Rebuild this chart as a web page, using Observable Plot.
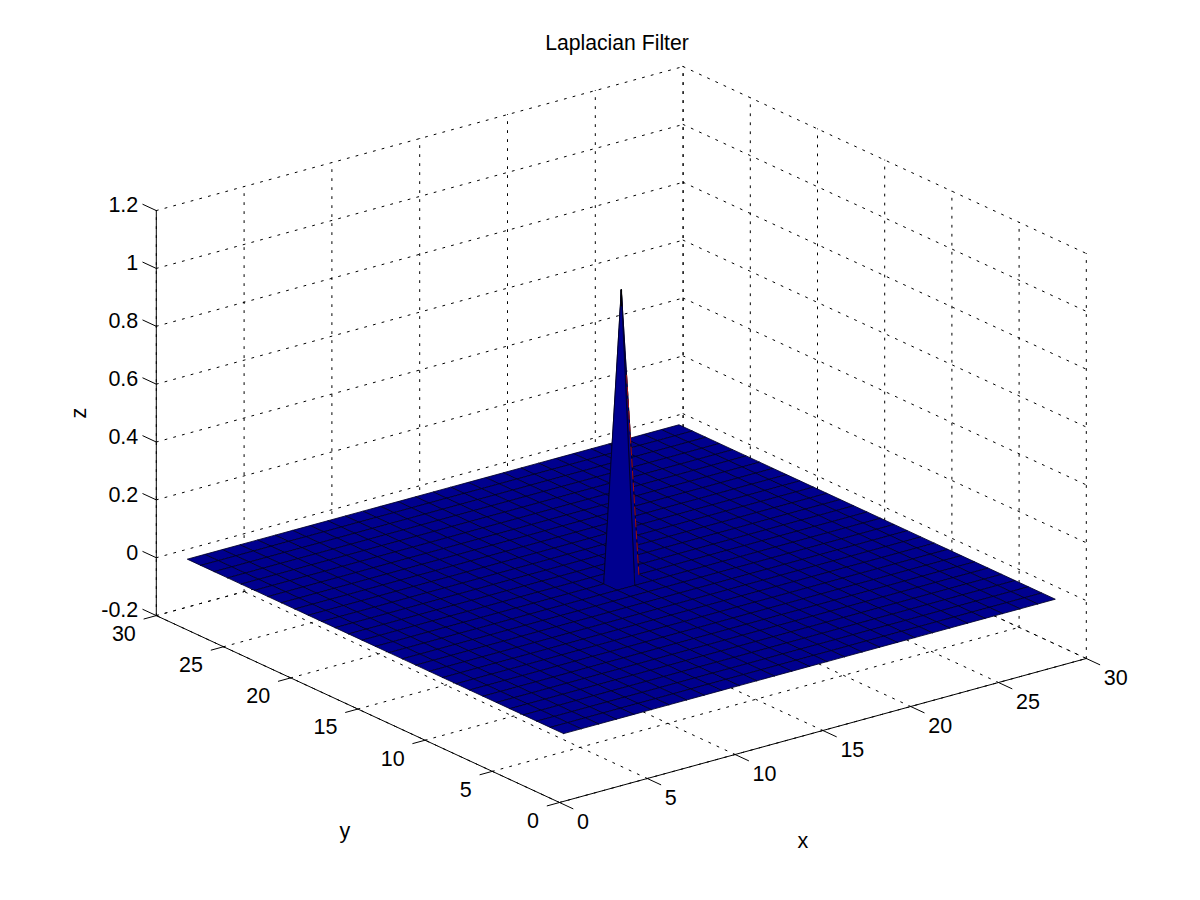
<!DOCTYPE html>
<html>
<head>
<meta charset="utf-8">
<script src="https://cdn.jsdelivr.net/npm/d3@7"></script>
<script src="https://cdn.jsdelivr.net/npm/@observablehq/plot@0.6"></script>
<style>
  html, body { margin: 0; padding: 0; background: #fff; }
  #title { position: relative; height: 54px; font: 21.2px/24px "Liberation Sans", Arial, sans-serif; color: #000; }
  #title span { position: absolute; left: 617px; top: 31px; transform: translateX(-50%); white-space: nowrap; }
  #chart svg { display: block; }
</style>
</head>
<body>
<div id="title"><span>Laplacian Filter</span></div>
<div id="chart"></div>
<script>
// ---- chart values ----
const chartTitle = "Laplacian Filter";
const gridX = [1,2,3,4,5,6,7,8,9,10,11,12,13,14,15,16,17,18,19,20,21,22,23,24,25,26,27,28,29];
const gridY = [1,2,3,4,5,6,7,8,9,10,11,12,13,14,15,16,17,18,19,20,21,22,23,24,25,26,27,28,29];
const flatRow = [0,0,0,0,0,0,0,0,0,0,0,0,0,0,0,0,0,0,0,0,0,0,0,0,0,0,0,0,0];
const peakRow = [0,0,0,0,0,0,0,0,0,0,0,0,0,0,1,0,0,0,0,0,0,0,0,0,0,0,0,0,0];
const surfaceZ = [
  flatRow,flatRow,flatRow,flatRow,flatRow,flatRow,flatRow,
  flatRow,flatRow,flatRow,flatRow,flatRow,flatRow,flatRow,
  peakRow,
  flatRow,flatRow,flatRow,flatRow,flatRow,flatRow,flatRow,
  flatRow,flatRow,flatRow,flatRow,flatRow,flatRow,flatRow
];
const xTicks = [0,5,10,15,20,25,30];
const yTicks = [0,5,10,15,20,25,30];
const zTicks = [-0.2,0,0.2,0.4,0.6,0.8,1,1.2];
const zTickLabels = ["-0.2","0","0.2","0.4","0.6","0.8","1","1.2"];
const spikeTipZ = [0.945, 1];

// ---- orthographic view of the 3-D axes ----
const view = {ux: 17.56, uy: -13.44, vx: 4.8, vy: 6.23, vz: 289.3};
const zMin = -0.2, zMax = 1.2, xyMin = 0, xyMax = 30;
const P = (x, y, z) => ({u: view.ux * x + view.uy * y, v: view.vx * x + view.vy * y + view.vz * (z - zMin)});

// colours
const flatBlue = "#00008f", peakRed = "#800000";

// ---- surface quads, far to near ----
const quads = [];
for (let j = 0; j < gridY.length - 1; j++) {
  for (let i = 0; i < gridX.length - 1; i++) {
    const corner = [[i, j], [i + 1, j], [i + 1, j + 1], [i, j + 1], [i, j]];
    const first = surfaceZ[j][i];
    quads.push({
      id: `${i}-${j}`,
      depth: P(gridX[i] + 0.5, gridY[j] + 0.5, 0).v,
      fill: first >= 1 ? peakRed : flatBlue,
      pts: corner.map(([a, b]) => P(gridX[a], gridY[b], surfaceZ[b][a]))
    });
  }
}
quads.sort((a, b) => b.depth - a.depth);
const quadPts = quads.flatMap(q => q.pts.map(p => ({...p, id: q.id, fill: q.fill})));

// ---- lines helper ----
const seg = (id, a, b) => [{...P(...a), id}, {...P(...b), id}];

const dotted = [];
for (const t of xTicks) {
  dotted.push(...seg(`fx${t}`, [t, xyMin, zMin], [t, xyMax, zMin]));       // floor
  dotted.push(...seg(`wx${t}`, [t, xyMax, zMin], [t, xyMax, zMax]));       // back wall y=30
}
for (const t of yTicks) {
  dotted.push(...seg(`fy${t}`, [xyMin, t, zMin], [xyMax, t, zMin]));       // floor
  dotted.push(...seg(`wy${t}`, [xyMax, t, zMin], [xyMax, t, zMax]));       // back wall x=30
}
for (const t of zTicks) {
  dotted.push(...seg(`zy${t}`, [xyMin, xyMax, t], [xyMax, xyMax, t]));
  dotted.push(...seg(`zx${t}`, [xyMax, xyMax, t], [xyMax, xyMin, t]));
}

const axisLines = [
  ...seg("ax", [xyMin, xyMin, zMin], [xyMax, xyMin, zMin]),
  ...seg("ay", [xyMin, xyMin, zMin], [xyMin, xyMax, zMin]),
  ...seg("az", [xyMin, xyMax, zMin], [xyMin, xyMax, zMax])
];
const tickLines = [];
for (const t of xTicks) tickLines.push(...seg(`tx${t}`, [t, xyMin, zMin], [t, xyMin - 1, zMin]));
for (const t of yTicks) tickLines.push(...seg(`ty${t}`, [xyMin, t, zMin], [xyMin - 0.7, t, zMin]));
for (const t of zTicks) tickLines.push(...seg(`tz${t}`, [xyMin, xyMax, t], [xyMin, xyMax + 1, t]));

const xLabels = xTicks.map(t => ({...P(t, xyMin, zMin), label: String(t)}));
const yLabels = yTicks.map(t => ({...P(xyMin, t, zMin), label: String(t)}));
const zLabels = zTicks.map((t, i) => ({...P(xyMin, xyMax, t), label: zTickLabels[i]}));

// ridge segments on the spike
const tip = spikeTipZ.map(z => ({...P(15, 15, z)}));
const redEdge = [P(15.3, 15, 0.7), P(16, 15, 0)];

const font = "Liberation Sans, Arial, sans-serif";
const chart = Plot.plot({
  width: 1200,
  height: 846,
  margin: 0,
  style: {background: "#fff", fontFamily: font},
  x: {domain: [-559, 641], range: [0, 1200], axis: null},
  y: {domain: [748, -98], range: [0, 846], axis: null},
  marks: [
    Plot.line(dotted, {x: "u", y: "v", z: "id", stroke: "#000", strokeWidth: 1, strokeDasharray: "2,7", curve: "linear"}),
    Plot.line(axisLines, {x: "u", y: "v", z: "id", stroke: "#000", strokeWidth: 1}),
    Plot.line(tickLines, {x: "u", y: "v", z: "id", stroke: "#000", strokeWidth: 1}),
    Plot.line(quadPts, {x: "u", y: "v", z: "id", fill: "fill", stroke: "#000028", strokeWidth: 0.85, strokeLinejoin: "bevel"}),
    Plot.line(redEdge, {x: "u", y: "v", stroke: "#a01010", strokeWidth: 1, strokeDasharray: "8,4"}),
    Plot.line(tip, {x: "u", y: "v", stroke: "#000", strokeWidth: 1.6}),
    Plot.text(xLabels, {x: "u", y: "v", text: "label", fontSize: 21.5, dx: 17.5, dy: 20, textAnchor: "start", lineAnchor: "middle", fill: "#000"}),
    Plot.text(yLabels, {x: "u", y: "v", text: "label", fontSize: 21.5, dx: -20.5, dy: 18.5, textAnchor: "end", lineAnchor: "middle", fill: "#000"}),
    Plot.text(zLabels, {x: "u", y: "v", text: "label", fontSize: 21.5, dx: -18, dy: -5, textAnchor: "end", lineAnchor: "middle", fill: "#000"}),
    Plot.text([P(15, xyMin, zMin)], {x: "u", y: "v", text: () => "x", fontSize: 21.5, dx: -20, dy: 111, lineAnchor: "middle", fill: "#000"}),
    Plot.text([P(xyMin, 15, zMin)], {x: "u", y: "v", text: () => "y", fontSize: 21.5, dx: -13, dy: 122, lineAnchor: "middle", fill: "#000"}),
    Plot.text([P(xyMin, xyMax, 0.5)], {x: "u", y: "v", text: () => "z", fontSize: 21.5, dx: -77, rotate: -90, lineAnchor: "middle", fill: "#000"})
  ]
});
document.querySelector("#title span").textContent = chartTitle;
document.getElementById("chart").appendChild(chart);
</script>
</body>
</html>
